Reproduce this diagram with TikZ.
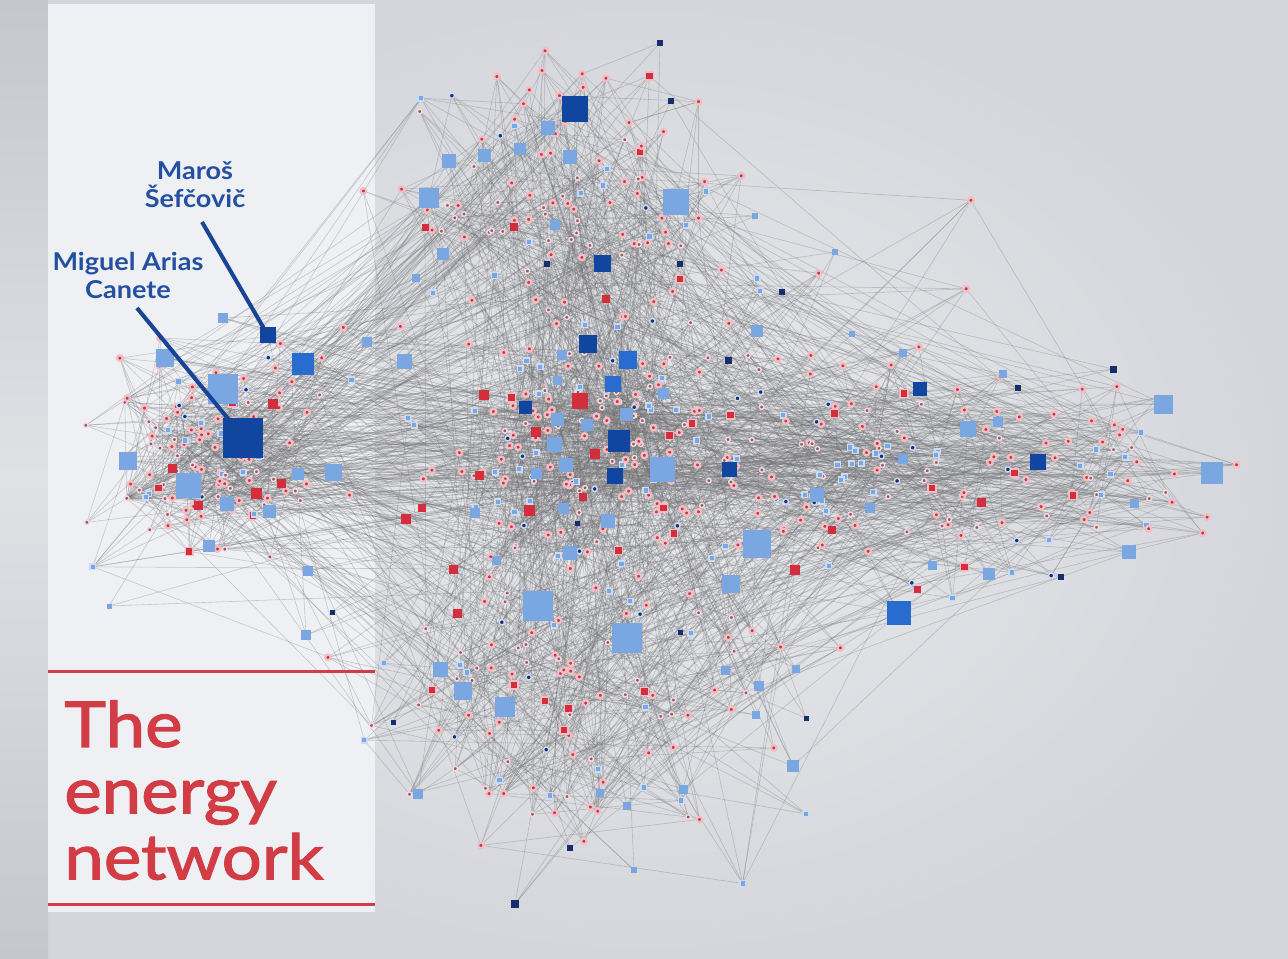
\documentclass[tikz,border=0pt]{standalone}
\usepackage{fontspec}
\usepackage{xcolor}
\newfontfamily\titlefont[FakeStretch=1.12, FakeBold=1.8]{Lato}
\newfontfamily\namefont[FakeStretch=1.1]{Lato}

\definecolor{bgray}{RGB}{213,214,219}
\definecolor{bglight}{RGB}{234,235,238}
\definecolor{stripdark}{RGB}{198,199,204}
\definecolor{striplight}{RGB}{224,225,229}
\definecolor{panelwhite}{RGB}{239,240,243}
\definecolor{titlered}{RGB}{210,60,68}
\definecolor{nameblue}{RGB}{35,80,160}
\definecolor{leaderblue}{RGB}{24,68,150}
\definecolor{linkgray}{RGB}{115,115,118}
\definecolor{hdb}{RGB}{16,70,160}
\definecolor{hmb}{RGB}{40,108,208}
\definecolor{hlb}{RGB}{122,166,226}
\definecolor{hnb}{RGB}{22,46,110}
\definecolor{hrd}{RGB}{212,45,60}
\definecolor{dotred}{RGB}{190,58,70}
\definecolor{dotdusk}{RGB}{140,92,102}
\definecolor{halo}{RGB}{242,190,196}

% cluster centre and spread, picked by dot number
\newcommand\pickcluster[1]{%
  \ifnum#1<121 \def\clx{220}\def\cly{455}\def\clsx{115}\def\clsy{105}%
  \else\ifnum#1<221 \def\clx{575}\def\cly{195}\def\clsx{150}\def\clsy{120}%
  \else\ifnum#1<371 \def\clx{600}\def\cly{450}\def\clsx{190}\def\clsy{110}%
  \else\ifnum#1<471 \def\clx{580}\def\cly{720}\def\clsx{200}\def\clsy{140}%
  \else\ifnum#1<571 \def\clx{880}\def\cly{480}\def\clsx{190}\def\clsy{105}%
  \else\ifnum#1<611 \def\clx{1110}\def\cly{470}\def\clsx{90}\def\clsy{80}%
  \else \def\clx{640}\def\cly{470}\def\clsx{290}\def\clsy{250}%
  \fi\fi\fi\fi\fi\fi}

% x/y/size/colour of the square nodes
\def\hublist{575/109/26/hdb, 548/128/14/hlb, 449/161/14/hlb, 484/155/13/hlb,
  520/149/12/hlb, 570/157/14/hlb, 429/198/20/hlb, 676/202/26/hlb, 555/225/10/hlb,
  514/227/8/hrd, 425/227/7/hrd, 443/254/12/hlb, 602/263/17/hdb, 416/278/8/hlb,
  757/331/12/hlb, 660/43/6/hnb, 671/101/6/hnb, 547/264/6/hnb, 680/264/6/hnb,
  606/299/8/hrd, 268/335/16/hdb, 303/364/22/hmb, 165/358/18/hlb, 223/389/30/hlb,
  243/438/40/hdb, 128/461/18/hlb, 188/485/25/hlb, 273/404/10/hrd, 172/468/9/hrd,
  281/483/9/hrd, 256/493/11/hrd, 198/505/9/hrd, 227/504/14/hlb, 269/511/13/hlb,
  298/474/12/hlb, 333/472/17/hlb, 209/546/12/hlb, 308/571/10/hlb, 223/318/10/hlb,
  367/342/10/hlb, 306/635/10/hlb, 332/612/5/hnb, 109/606/5/hlb, 404/361/15/hlb,
  588/344/18/hdb, 628/360/18/hmb, 613/384/16/hmb, 525/407/13/hdb, 580/401/16/hrd,
  484/395/10/hrd, 663/393/11/hlb, 562/355/10/hlb, 557/380/9/hlb, 626/414/13/hlb,
  557/419/13/hlb, 587/425/12/hlb, 619/441/22/hdb, 536/432/10/hrd, 554/444/15/hlb,
  566/465/14/hlb, 615/476/16/hdb, 595/454/10/hrd, 662/469/25/hlb, 479/475/9/hrd,
  536/473/11/hlb, 583/497/8/hrd, 529/510/11/hrd, 563/508/11/hlb, 608/521/14/hlb,
  475/513/10/hlb, 729/469/15/hdb, 406/519/10/hrd, 422/508/8/hrd, 570/553/14/hlb,
  453/569/9/hrd, 496/560/9/hlb, 538/606/30/hlb, 627/638/30/hlb, 757/544/28/hlb,
  731/584/18/hlb, 795/570/10/hrd, 457/613/9/hrd, 440/669/15/hlb, 463/691/18/hlb,
  505/707/20/hlb, 725/670/9/hlb, 759/686/10/hlb, 756/715/8/hlb, 796/669/8/hlb,
  793/766/12/hlb, 418/794/10/hlb, 683/789/9/hlb, 393/722/5/hnb, 680/632/5/hnb,
  577/523/5/hnb, 806/718/5/hnb, 600/793/8/hlb, 627/806/8/hlb, 515/904/8/hnb,
  570/848/6/hnb, 634/870/6/hlb, 920/389/14/hdb, 1113/369/7/hnb, 755/216/6/hlb,
  835/252/6/hlb, 782/292/6/hnb, 728/360/7/hnb, 903/353/8/hlb, 852/334/6/hlb,
  1003/374/8/hlb, 1018/388/6/hnb, 968/429/16/hlb, 998/422/10/hlb, 903/459/10/hlb,
  1038/462/16/hdb, 1163/404/19/hlb, 1212/473/22/hlb, 981/502/9/hrd, 1134/503/9/hlb,
  1129/552/14/hlb, 989/574/12/hlb, 1061/577/6/hnb, 932/565/9/hlb, 899/613/24/hmb,
  917/589/7/hrd, 817/495/14/hlb, 870/508/10/hlb, 832/530/8/hrd}

\tikzset{
  edge/.style={draw=linkgray, line width=0.35pt, opacity=0.33},
  hub/.style={rectangle, inner sep=0pt, minimum size=#1*0.02cm},
  reddot/.style={circle, inner sep=0pt, minimum size=3.2pt, fill=dotred, draw=halo, line width=1.3pt},
  duskdot/.style={circle, inner sep=0pt, minimum size=2.6pt, fill=dotdusk, draw=halo!60!white, line width=0.8pt},
  redsq/.style={rectangle, inner sep=0pt, minimum size=4.5pt, fill=hrd, draw=halo, line width=0.8pt},
  bluedot/.style={rectangle, inner sep=0pt, minimum size=3.2pt, fill=hlb, draw=hlb!40!white, line width=0.8pt},
  navydot/.style={circle, inner sep=0pt, minimum size=3pt, fill=hnb, draw=hlb!40!white, line width=0.8pt},
  leader/.style={draw=leaderblue, line width=2.3pt},
  titlerule/.style={draw=titlered, line width=1.7pt},
  namelabel/.style={text=nameblue, font=\namefont\bfseries\fontsize{14}{15.9}\selectfont, align=center, inner sep=0pt},
  titletext/.style={text=titlered, font=\titlefont\fontsize{36}{37.7}\selectfont, align=left, inner sep=0pt}
}

\begin{document}
\begin{tikzpicture}[x=0.02cm, y=-0.02cm]
  \useasboundingbox (0,0) rectangle (1288,958);

  % backdrop
  \shade[inner color=bglight, outer color=bgray] (0,0) rectangle (1288,958);
  \shade[top color=stripdark, bottom color=stripdark, middle color=striplight] (0,0) rectangle (48,958);
  \fill[panelwhite] (48,4) rectangle (375,912);

  % scattered dots
  \pgfmathsetseed{2718}
  \foreach \i in {1,...,680} {
    \pickcluster{\i}
    \pgfmathsetmacro\px{\clx+\clsx*(rand+rand+rand)/2}
    \pgfmathsetmacro\py{\cly+\clsy*(rand+rand+rand)/2}
    \coordinate (p\i) at (\px,\py);
  }
  \foreach \x/\y/\w/\c [count=\k] in \hublist
    \coordinate (s\k) at (\x,\y);

  % links between dots
  \foreach \i in {2,...,680} {
    \pgfmathtruncatemacro\ja{max(1,\i-1-int(rnd*25))}
    \pgfmathtruncatemacro\jb{max(1,\i-1-int(rnd*70))}
    \pgfmathtruncatemacro\jc{1+int(rnd*679)}
    \draw[edge] (p\i) -- (p\ja) (p\i) -- (p\jb) (p\i) -- (p\jc);
  }
  % links from the squares
  \foreach \x/\y/\w/\c [count=\k] in \hublist {
    \pgfmathtruncatemacro\nl{2+int(\w/4)}
    \foreach \m in {1,...,\nl} {
      \pgfmathtruncatemacro\j{1+int(rnd*679)}
      \draw[edge] (s\k) -- (p\j);
    }
  }

  % dots on top of the links
  \foreach \i in {1,...,680} {
    \pgfmathsetmacro\kind{rnd}
    \ifdim\kind pt<0.50pt \node[reddot] (d\i) at (p\i) {};
    \else\ifdim\kind pt<0.74pt \node[duskdot] (d\i) at (p\i) {};
    \else\ifdim\kind pt<0.79pt \node[redsq] (d\i) at (p\i) {};
    \else\ifdim\kind pt<0.93pt \node[bluedot] (d\i) at (p\i) {};
    \else \node[navydot] (d\i) at (p\i) {};
    \fi\fi\fi\fi
  }
  \foreach \x/\y/\w/\c [count=\k] in \hublist
    \node[hub=\w, fill=\c] (h\k) at (s\k) {};

  % names and pointers
  \node[namelabel, anchor=north] (maros) at (195,161) {Maroš\\Šefčovič};
  \node[namelabel, anchor=north] (canete) at (128,252) {Miguel Arias\\Canete};
  \coordinate (maros-tip) at (202,222);
  \coordinate (canete-tip) at (137,308);
  \draw[leader] (maros-tip) -- ([shift={(-2,-3)}]h21.center);
  \draw[leader] (canete-tip) -- ([shift={(-4,-6)}]h25.center);

  % title block
  \draw[titlerule] (48,671) -- (375,671);
  \draw[titlerule] (48,904) -- (375,904);
  \node[titletext, anchor=north west] (title) at (64,700) {The\\energy\\network};
\end{tikzpicture}
\end{document}
